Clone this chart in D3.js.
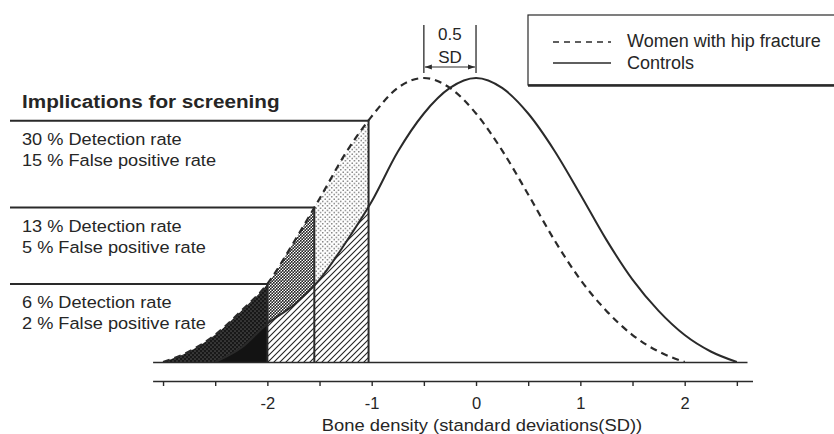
<!DOCTYPE html>
<html>
<head>
<meta charset="utf-8">
<script src="https://cdn.jsdelivr.net/npm/d3@7"></script>
<style>
  body { margin: 0; background: #fff; }
  svg { display: block; font-family: 'Liberation Sans', Arial, sans-serif; }
  text { fill: #262626; }
</style>
</head>
<body>
<svg id="chart" width="834" height="434"></svg>
<script>
// curve heights (1 = peak)
const fractureX = [-3, -2.75, -2.5, -2.25, -2, -1.75, -1.5, -1.25, -1, -0.75, -0.5,
  -0.25, 0, 0.25, 0.5, 0.75, 1, 1.25, 1.5, 1.75, 2];
const fractureY = [0, 0.037, 0.096, 0.18, 0.275, 0.42, 0.575, 0.735, 0.865, 0.965, 1,
  0.965, 0.875, 0.745, 0.59, 0.43, 0.29, 0.18, 0.095, 0.037, 0];

const controlX = [-2.5, -2.25, -2, -1.75, -1.5, -1.25, -1, -0.75, -0.5, -0.25, 0,
  0.25, 0.5, 0.75, 1, 1.25, 1.5, 1.75, 2, 2.25, 2.5];
const controlY = [0, 0.05, 0.135, 0.2, 0.29, 0.42, 0.565, 0.74, 0.875, 0.965, 1,
  0.965, 0.875, 0.745, 0.59, 0.43, 0.29, 0.18, 0.095, 0.037, 0];

// screening cut-offs, top block first
const cutoffs = [-1.03, -1.55, -2.0];
const detectionLabels = ['30 % Detection rate', '13 % Detection rate', '6 % Detection rate'];
const falsePosLabels = ['15 % False positive rate', '5 % False positive rate', '2 % False positive rate'];

const tickValues = [-3, -2.5, -2, -1.5, -1, -0.5, 0, 0.5, 1, 1.5, 2, 2.5];
const labelledTicks = [-2, -1, 0, 1, 2];
const meanShift = [-0.5, 0];

const svg = d3.select('#chart');
const ink = '#2a2a2a';

const x = d3.scaleLinear().domain([-3.1, 2.65]).range([152.6, 752.5]);
const y = d3.scaleLinear().domain([0, 1]).range([362, 78]);

const fracture = fractureX.map((v, i) => ({ x: v, y: fractureY[i] }));
const control = controlX.map((v, i) => ({ x: v, y: controlY[i] }));

// linear read-back of a curve height at a given x
function heightAt(pts, v) {
  const i = d3.bisector(d => d.x).right(pts, v);
  const a = pts[Math.max(i - 1, 0)], b = pts[Math.min(i, pts.length - 1)];
  if (a === b) return a.y;
  return a.y + (b.y - a.y) * (v - a.x) / (b.x - a.x);
}

// patterns
const defs = svg.append('defs');

const hatch = defs.append('pattern').attr('id', 'hatch')
  .attr('patternUnits', 'userSpaceOnUse').attr('width', 6).attr('height', 6);
hatch.append('rect').attr('width', 6).attr('height', 6).attr('fill', '#fff');
hatch.append('path').attr('d', 'M0,6 L6,0 M-1.5,1.5 L1.5,-1.5 M4.5,7.5 L7.5,4.5')
  .attr('stroke', '#222').attr('stroke-width', 1.1);

function dots(id, size, bg, fg, r) {
  const p = defs.append('pattern').attr('id', id)
    .attr('patternUnits', 'userSpaceOnUse').attr('width', size).attr('height', size);
  p.append('rect').attr('width', size).attr('height', size).attr('fill', bg);
  p.append('circle').attr('cx', size / 4).attr('cy', size / 4).attr('r', r).attr('fill', fg);
  p.append('circle').attr('cx', size * 3 / 4).attr('cy', size * 3 / 4).attr('r', r).attr('fill', fg);
}
dots('lightDots', 4.5, '#fff', '#333', 0.7);
dots('midDots', 3, '#fff', '#222', 0.95);
dots('darkDots', 4, '#181818', '#fff', 0.45);

// clip strips between cut-offs
const bands = [[-3.1, cutoffs[2]], [cutoffs[2], cutoffs[1]], [cutoffs[1], cutoffs[0]]];
bands.forEach((b, i) => {
  defs.append('clipPath').attr('id', 'band' + i)
    .append('rect').attr('x', x(b[0])).attr('y', 0)
    .attr('width', x(b[1]) - x(b[0])).attr('height', 434);
});

const line = d3.line().x(d => x(d.x)).y(d => y(d.y)).curve(d3.curveMonotoneX);
const area = d3.area().x(d => x(d.x)).y0(y(0)).y1(d => y(d.y)).curve(d3.curveMonotoneX);

const fills = svg.append('g');
const fractureFills = ['url(#darkDots)', 'url(#midDots)', 'url(#lightDots)'];
const controlFills = ['#131313', 'url(#hatch)', 'url(#hatch)'];
bands.forEach((b, i) => {
  fills.append('path').attr('d', area(fracture))
    .attr('fill', fractureFills[i]).attr('clip-path', `url(#band${i})`);
});
bands.forEach((b, i) => {
  fills.append('path').attr('d', area(control))
    .attr('fill', controlFills[i]).attr('clip-path', `url(#band${i})`);
});

// curves
svg.append('path').attr('d', line(control))
  .attr('fill', 'none').attr('stroke', ink).attr('stroke-width', 2);
svg.append('path').attr('d', line(fracture))
  .attr('fill', 'none').attr('stroke', ink).attr('stroke-width', 2.2)
  .attr('stroke-dasharray', '7,5');

// baseline of curves and the SD axis
svg.append('g').attr('transform', `translate(0, ${y(0)})`)
  .call(d3.axisBottom(x.copy().range([152.6, 747])).tickValues([]).tickSizeOuter(0))
  .call(g => g.select('.domain').attr('stroke', ink).attr('stroke-width', 1.6));

svg.append('g').attr('transform', 'translate(0, 381)')
  .call(d3.axisBottom(x).tickValues(tickValues).tickSize(5).tickSizeOuter(0).tickPadding(11)
    .tickFormat(d => labelledTicks.includes(d) ? String(d) : ''))
  .call(g => g.select('.domain').attr('stroke', ink).attr('stroke-width', 1.6))
  .call(g => g.selectAll('.tick line').attr('stroke', ink).attr('stroke-width', 1.4))
  .call(g => g.selectAll('.tick text').attr('fill', '#262626')
    .attr('font-family', "'Liberation Sans', Arial, sans-serif").attr('font-size', 16.5));

svg.append('text').attr('x', 482).attr('y', 431).attr('text-anchor', 'middle')
  .attr('font-size', 17).attr('transform', 'translate(482,0) scale(1.08,1) translate(-482,0)')
  .text('Bone density (standard deviations(SD))');

// cut-off lines and labels
svg.append('text')
  .attr('transform', 'translate(22,108) scale(1.09,1)')
  .attr('font-size', 19).attr('font-weight', 'bold')
  .text('Implications for screening');

cutoffs.forEach((c, i) => {
  const top = y(heightAt(fracture, c));
  svg.append('path')
    .attr('d', `M10,${top}H${x(c)}V${y(0)}`)
    .attr('fill', 'none').attr('stroke', ink).attr('stroke-width', 2);
  svg.append('text').attr('transform', `translate(22,${top + 24}) scale(1.07,1)`)
    .attr('font-size', 17).text(detectionLabels[i]);
  svg.append('text').attr('transform', `translate(22,${top + 45}) scale(1.07,1)`)
    .attr('font-size', 17).text(falsePosLabels[i]);
});

// 0.5 SD marker
const mk = svg.append('g').attr('stroke', ink).attr('stroke-width', 1.3);
meanShift.forEach(m => {
  mk.append('line').attr('x1', x(m)).attr('x2', x(m)).attr('y1', 25).attr('y2', 73);
});
mk.append('line').attr('x1', x(meanShift[0]) + 1).attr('x2', x(meanShift[1]) - 1)
  .attr('y1', 67).attr('y2', 67).attr('stroke-width', 1);
const xa = x(meanShift[0]), xb = x(meanShift[1]);
svg.append('path').attr('d', `M${xa + 1},67 l7,-2.5 v5 Z M${xb - 1},67 l-7,-2.5 v5 Z`)
  .attr('fill', ink);
const mid = (xa + xb) / 2;
svg.append('text').attr('x', mid).attr('y', 40).attr('text-anchor', 'middle')
  .attr('font-size', 17).text('0.5');
svg.append('text').attr('x', mid).attr('y', 63).attr('text-anchor', 'middle')
  .attr('font-size', 17).text('SD');

// legend
const lg = svg.append('g');
lg.append('rect').attr('x', 528).attr('y', 15).attr('width', 320).attr('height', 70)
  .attr('fill', '#fff').attr('stroke', ink).attr('stroke-width', 1.2);
lg.append('line').attr('x1', 528).attr('x2', 834).attr('y1', 85.5).attr('y2', 85.5)
  .attr('stroke', ink).attr('stroke-width', 2.4);
lg.append('line').attr('x1', 553).attr('x2', 611).attr('y1', 42).attr('y2', 42)
  .attr('stroke', ink).attr('stroke-width', 1.6).attr('stroke-dasharray', '6,5');
lg.append('line').attr('x1', 553).attr('x2', 611).attr('y1', 63).attr('y2', 63)
  .attr('stroke', ink).attr('stroke-width', 1.6);
lg.append('text').attr('x', 627).attr('y', 47).attr('font-size', 18).text('Women with hip fracture');
lg.append('text').attr('x', 627).attr('y', 69).attr('font-size', 18).text('Controls');
</script>
</body>
</html>
